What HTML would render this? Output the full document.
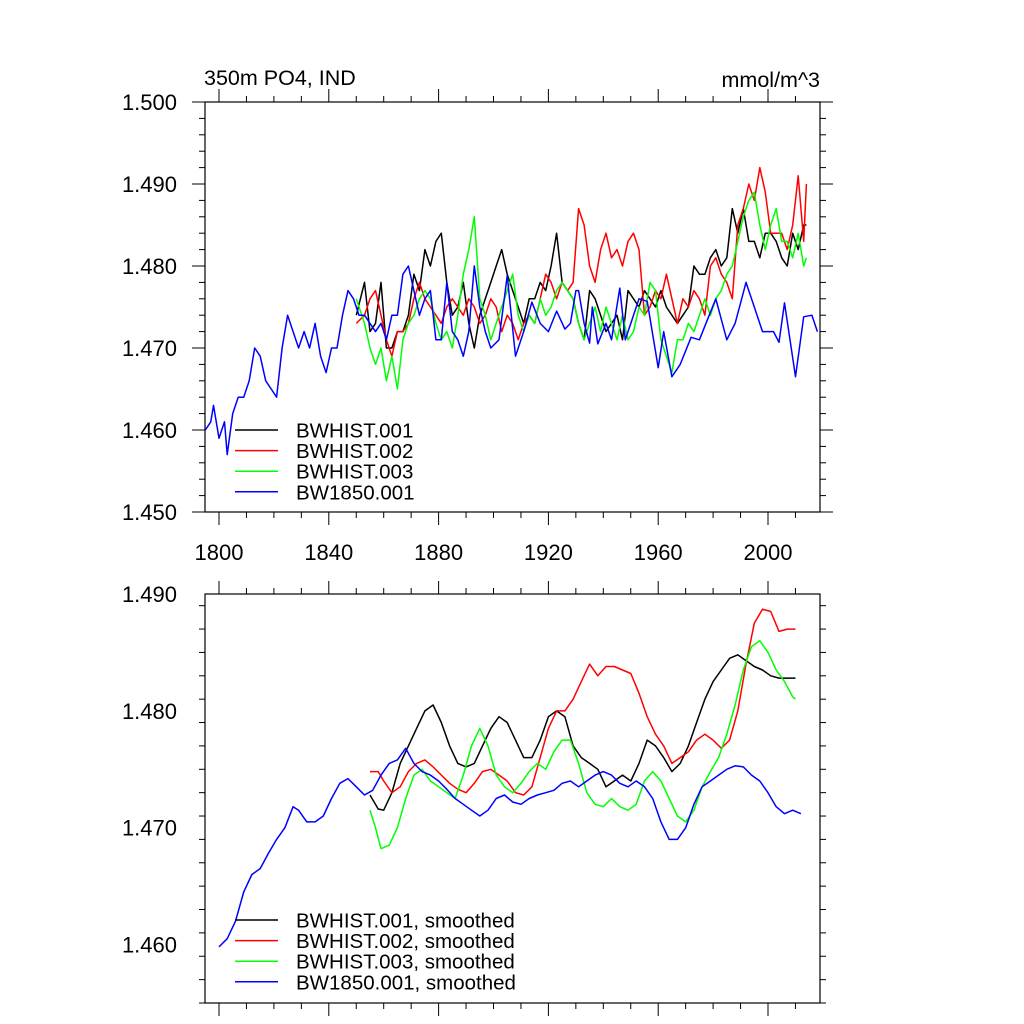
<!DOCTYPE html>
<html><head><meta charset="utf-8"><style>
html,body{margin:0;padding:0;background:#fff;}
svg{display:block;font-family:"Liberation Sans",sans-serif;}
</style></head><body>
<svg id="chart" width="1024" height="1024" viewBox="0 0 1024 1024" xmlns="http://www.w3.org/2000/svg">
<text x="204" y="85" font-size="21.5">350m PO4, IND</text>
<text x="820" y="87" font-size="21.5" text-anchor="end">mmol/m^3</text>
<g id="top"></g>
<g id="bot"></g>
</svg>
<script>
// ---- data ----
const blueYears=[1795,1797,1798,1800,1802,1803,1805,1807,1809,1811,1813,1815,1817,1819,1821,1823,1825,1827,1829,1831,1833,1835,1837,1839,1841,1843,1845,1847,1849,1851,1853,1855,1857,1859,1861,1863,1865,1867,1869,1871,1873,1875,1877,1879,1881,1883,1885,1887,1889,1891,1893,1895,1897,1899,1902,1905,1908,1911,1914,1917,1920,1923,1926,1928,1930,1931,1933,1935,1936,1938,1941,1943,1946,1948,1950,1953,1956,1960,1962,1965,1968,1972,1975,1978,1981,1985,1988,1990,1992,1995,1998,2002,2004,2006,2010,2013,2016,2018];
const blueVals=[1.460,1.461,1.463,1.459,1.461,1.457,1.462,1.464,1.464,1.466,1.470,1.469,1.466,1.465,1.464,1.470,1.474,1.472,1.470,1.472,1.470,1.473,1.469,1.467,1.470,1.470,1.474,1.477,1.476,1.474,1.474,1.473,1.472,1.473,1.471,1.474,1.474,1.479,1.480,1.477,1.474,1.476,1.477,1.471,1.471,1.478,1.472,1.471,1.469,1.472,1.480,1.475,1.472,1.470,1.471,1.4788,1.469,1.472,1.4756,1.473,1.472,1.4745,1.4723,1.473,1.477,1.477,1.473,1.4706,1.475,1.4705,1.473,1.471,1.4773,1.471,1.473,1.476,1.4757,1.4676,1.472,1.4665,1.468,1.4713,1.471,1.4735,1.476,1.471,1.473,1.4755,1.478,1.475,1.472,1.472,1.4707,1.4755,1.4665,1.4738,1.474,1.472];
const histYears=[1850,1853,1855,1857,1859,1861,1863,1865,1867,1869,1871,1873,1875,1877,1879,1881,1883,1885,1887,1889,1891,1893,1895,1897,1899,1901,1903,1905,1907,1909,1911,1913,1915,1917,1919,1921,1923,1925,1927,1929,1931,1933,1935,1937,1939,1941,1943,1945,1947,1949,1951,1953,1955,1957,1959,1961,1963,1965,1967,1969,1971,1973,1975,1977,1979,1981,1983,1985,1987,1989,1991,1993,1995,1997,1999,2001,2003,2005,2007,2009,2011,2013,2014];
const blackVals=[1.474,1.478,1.472,1.473,1.478,1.470,1.470,1.472,1.472,1.474,1.479,1.477,1.482,1.480,1.483,1.484,1.478,1.474,1.475,1.478,1.473,1.470,1.474,1.476,1.478,1.480,1.482,1.479,1.477,1.475,1.473,1.476,1.476,1.478,1.477,1.480,1.484,1.478,1.477,1.476,1.473,1.471,1.477,1.476,1.474,1.472,1.473,1.474,1.471,1.477,1.476,1.475,1.477,1.476,1.475,1.477,1.475,1.474,1.473,1.474,1.475,1.480,1.479,1.479,1.481,1.482,1.480,1.481,1.487,1.484,1.487,1.483,1.483,1.481,1.484,1.484,1.483,1.481,1.480,1.484,1.482,1.485,1.485];
const redVals=[1.473,1.474,1.476,1.477,1.474,1.471,1.469,1.472,1.472,1.473,1.476,1.478,1.476,1.475,1.474,1.473,1.475,1.476,1.475,1.474,1.476,1.475,1.473,1.474,1.476,1.475,1.472,1.474,1.473,1.471,1.473,1.474,1.473,1.476,1.479,1.478,1.476,1.478,1.477,1.478,1.487,1.485,1.480,1.478,1.482,1.484,1.481,1.482,1.480,1.483,1.484,1.482,1.474,1.475,1.477,1.476,1.479,1.476,1.473,1.476,1.475,1.477,1.476,1.474,1.480,1.481,1.479,1.478,1.476,1.485,1.487,1.490,1.488,1.492,1.489,1.484,1.484,1.484,1.482,1.485,1.491,1.483,1.490];
const greenVals=[1.476,1.473,1.470,1.468,1.470,1.466,1.469,1.465,1.471,1.473,1.474,1.476,1.477,1.476,1.473,1.471,1.472,1.470,1.474,1.479,1.482,1.486,1.476,1.474,1.471,1.473,1.475,1.477,1.479,1.474,1.472,1.474,1.473,1.476,1.474,1.475,1.477,1.478,1.477,1.476,1.473,1.471,1.473,1.475,1.472,1.475,1.473,1.471,1.474,1.471,1.472,1.475,1.474,1.478,1.477,1.471,1.469,1.467,1.471,1.471,1.473,1.472,1.474,1.476,1.474,1.476,1.477,1.479,1.480,1.483,1.486,1.488,1.489,1.485,1.482,1.485,1.487,1.483,1.483,1.481,1.484,1.480,1.481];

const smYears=[1855,1858,1860,1863,1866,1869,1872,1875,1878,1881,1884,1887,1890,1893,1896,1899,1902,1905,1908,1911,1914,1917,1920,1923,1926,1929,1932,1935,1938,1941,1944,1947,1950,1953,1956,1959,1962,1965,1968,1971,1974,1977,1980,1983,1986,1989,1992,1995,1998,2001,2004,2007,2010];
const smBlack=[1.4728,1.4716,1.4715,1.4730,1.4755,1.4770,1.4785,1.4800,1.4805,1.4790,1.4770,1.4755,1.4752,1.4755,1.4770,1.4785,1.4795,1.4790,1.4775,1.4760,1.4760,1.4775,1.4795,1.4800,1.4795,1.4770,1.4760,1.4755,1.4750,1.4735,1.4740,1.4745,1.4740,1.4755,1.4775,1.4770,1.4760,1.4748,1.4755,1.4770,1.4790,1.4810,1.4825,1.4835,1.4845,1.4848,1.4843,1.4838,1.4835,1.4830,1.4828,1.4828,1.4828];
const smRed=[1.4748,1.4748,1.4740,1.4730,1.4735,1.4748,1.4755,1.4758,1.4752,1.4745,1.4738,1.4733,1.4730,1.4738,1.4748,1.4750,1.4745,1.4740,1.4730,1.4728,1.4735,1.4760,1.4785,1.4800,1.4800,1.4810,1.4825,1.4840,1.4830,1.4838,1.4838,1.4835,1.4832,1.4815,1.4795,1.4780,1.4770,1.4755,1.4760,1.4765,1.4775,1.4780,1.4775,1.4768,1.4775,1.4800,1.4840,1.4875,1.4887,1.4885,1.4868,1.4870,1.4870];
const smGreenYears=[1855,1857,1859,1862,1865,1868,1871,1874,1877,1880,1883,1886,1889,1892,1895,1898,1901,1904,1907,1910,1913,1916,1919,1922,1925,1928,1931,1934,1937,1940,1943,1946,1949,1952,1955,1958,1961,1964,1967,1970,1973,1976,1979,1982,1985,1988,1991,1994,1997,2000,2003,2006,2009,2010];
const smGreen=[1.4715,1.4700,1.4682,1.4685,1.4700,1.4725,1.4745,1.4750,1.4740,1.4735,1.4730,1.4725,1.4745,1.4770,1.4785,1.4770,1.4745,1.4735,1.4730,1.4738,1.4748,1.4755,1.4750,1.4765,1.4775,1.4775,1.4755,1.4730,1.4720,1.4718,1.4725,1.4718,1.4715,1.4720,1.4740,1.4748,1.4740,1.4725,1.4710,1.4705,1.4715,1.4735,1.4748,1.4760,1.4780,1.4805,1.4835,1.4855,1.4860,1.4850,1.4835,1.4825,1.4812,1.4810];
const smBlueYears=[1800,1803,1806,1809,1812,1815,1818,1821,1824,1827,1829,1832,1835,1838,1841,1844,1847,1850,1853,1856,1859,1862,1865,1868,1871,1874,1877,1880,1883,1886,1889,1892,1895,1898,1901,1904,1907,1910,1913,1916,1919,1922,1925,1928,1931,1934,1937,1940,1943,1946,1949,1952,1955,1958,1961,1964,1967,1970,1973,1976,1979,1982,1985,1988,1991,1994,1997,2000,2003,2006,2009,2012];
const smBlue=[1.4598,1.4605,1.4620,1.4645,1.4660,1.4665,1.4678,1.4690,1.4700,1.4718,1.4715,1.4705,1.4705,1.4710,1.4725,1.4738,1.4742,1.4735,1.4728,1.4732,1.4745,1.4755,1.4758,1.4768,1.4755,1.4748,1.4745,1.4740,1.4733,1.4725,1.4720,1.4715,1.4710,1.4715,1.4725,1.4728,1.4722,1.4720,1.4725,1.4728,1.4730,1.4732,1.4738,1.4740,1.4735,1.4740,1.4745,1.4748,1.4745,1.4738,1.4735,1.4740,1.4735,1.4725,1.4705,1.4690,1.4690,1.4700,1.4720,1.4735,1.4740,1.4745,1.4750,1.4753,1.4752,1.4745,1.4740,1.4730,1.4718,1.4712,1.4715,1.4712];

const topYTicks=[1.450,1.460,1.470,1.480,1.490,1.500];
const topYLabels=["1.450","1.460","1.470","1.480","1.490","1.500"];
const botYTicks=[1.460,1.470,1.480,1.490];
const botYLabels=["1.460","1.470","1.480","1.490"];
const xTicks=[1800,1840,1880,1920,1960,2000];
const xLabels=["1800","1840","1880","1920","1960","2000"];

// ---- drawing ----
const NS="http://www.w3.org/2000/svg";
const L=205,R=820;
const xOf=y=>219+(y-1800)*2.745;
function el(parent,tag,attrs){const e=document.createElementNS(NS,tag);for(const k in attrs)e.setAttribute(k,attrs[k]);parent.appendChild(e);return e;}

function panel(g,T,B,ymin,ymax,yt,yl,showX,series,legend,legY){
  const yOf=v=>B-(v-ymin)/(ymax-ymin)*(B-T);
  const fr=el(g,'rect',{x:L,y:T,width:R-L,height:B-T,fill:'none',stroke:'#000','stroke-width':1.2});
  
  
  for(let v=ymin;v<=ymax+1e-9;v+=0.002){
    const y=yOf(v);const major=Math.abs(Math.round(v*1000)%10)===0;const len=major?13:6;
    el(g,'line',{x1:L-len,x2:L,y1:y,y2:y,stroke:'#000','stroke-width':1});
    el(g,'line',{x1:R,x2:R+len,y1:y,y2:y,stroke:'#000','stroke-width':1});
  }
  yt.forEach((v,i)=>{const t=el(g,'text',{x:177,y:yOf(v)+8,'font-size':22,'text-anchor':'end'});t.textContent=yl[i];
    
    });
  for(let yr=1800;yr<=2010;yr+=10){
    const x=xOf(yr);const major=yr%40===0;const len=major?13:6;
    el(g,'line',{x1:x,x2:x,y1:B,y2:B+len,stroke:'#000','stroke-width':1});
    el(g,'line',{x1:x,x2:x,y1:T-len,y2:T,stroke:'#000','stroke-width':1});
  }
  if(showX) xTicks.forEach((yr,i)=>{const t=el(g,'text',{x:xOf(yr),y:B+48,'font-size':22,'text-anchor':'middle'});t.textContent=xLabels[i];
    
    });
  series.forEach(s=>{
    const d=s.years.map((yr,i)=>(i?'L':'M')+xOf(yr).toFixed(1)+','+yOf(s.vals[i]).toFixed(1)).join('');
    const p=el(g,'path',{d:d,fill:'none',stroke:s.color,'stroke-width':1.5,'stroke-linejoin':'round'});
    
    
  });
  legend.forEach((lab,i)=>{
    const y=legY+i*20.6;
    const ln=el(g,'line',{x1:235,x2:278,y1:y,y2:y,stroke:series[i].color,'stroke-width':1.5});
    
    
    const t=el(g,'text',{x:296,y:y+7.5,'font-size':20.5});t.textContent=lab;
    
    
  });
}
panel(document.getElementById('top'),102,512,1.450,1.500,topYTicks,topYLabels,true,[
 {years:histYears,vals:blackVals,color:'#000',name:'bwhist-001-line'},
 {years:histYears,vals:redVals,color:'#f00',name:'bwhist-002-line'},
 {years:histYears,vals:greenVals,color:'#0f0',name:'bwhist-003-line'},
 {years:blueYears,vals:blueVals,color:'#00f',name:'bw1850-001-line'}],
 ["BWHIST.001","BWHIST.002","BWHIST.003","BW1850.001"],430);
panel(document.getElementById('bot'),594,1003,1.455,1.490,botYTicks,botYLabels,false,[
 {years:smYears,vals:smBlack,color:'#000',name:'bwhist-001-smoothed-line'},
 {years:smYears,vals:smRed,color:'#f00',name:'bwhist-002-smoothed-line'},
 {years:smGreenYears,vals:smGreen,color:'#0f0',name:'bwhist-003-smoothed-line'},
 {years:smBlueYears,vals:smBlue,color:'#00f',name:'bw1850-001-smoothed-line'}],
 ["BWHIST.001, smoothed","BWHIST.002, smoothed","BWHIST.003, smoothed","BW1850.001, smoothed"],920);
</script>
</body></html>
